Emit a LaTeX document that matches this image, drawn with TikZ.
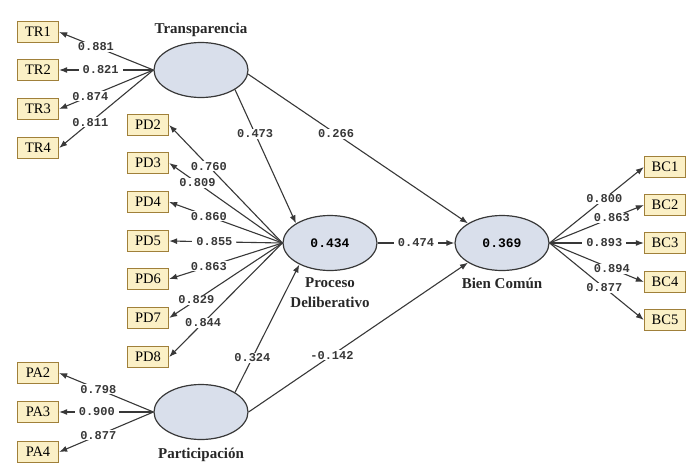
\documentclass[tikz,border=0pt]{standalone}
\usepackage{fontspec}
\setmainfont{Liberation Serif}
\newfontfamily\numfont{Liberation Mono}
\usetikzlibrary{shapes,arrows,positioning,calc,arrows.meta}
\definecolor{latentfill}{HTML}{D9DFEB}
\definecolor{itemfill}{HTML}{FBF0C6}
\definecolor{itemdraw}{HTML}{A0803A}
\definecolor{pathgray}{HTML}{383838}

\tikzset{
  latent/.style={ellipse, draw=pathgray, fill=latentfill, line width=1.2pt, minimum width=94pt, minimum height=55pt, inner sep=0pt, font=\numfont\bfseries\fontsize{13}{13}\selectfont},
  item/.style={rectangle, draw=itemdraw, fill=itemfill, line width=1.3pt, minimum width=41pt, minimum height=21pt, inner sep=0pt, font=\fontsize{14.5}{14.5}\selectfont},
  load/.style={draw=pathgray, line width=1.1pt, -{Latex[length=8pt,width=6pt]}},
  coef/.style={fill=white, inner xsep=4pt, inner ysep=1pt, text=pathgray, font=\numfont\bfseries\fontsize{12}{12}\selectfont},
  construct/.style={text=pathgray!70!black, font=\bfseries\fontsize{15}{20}\selectfont, align=center}
}

\begin{document}
\begin{tikzpicture}[x=1pt, y=-1pt]
    \useasboundingbox (0,0) rectangle (689,472);

    % latent variables
    \node[latent] (TRa) at (201,70) {};
    \node[latent] (PDa) at (330,243) {0.434};
    \node[latent] (BCa) at (502,243) {0.369};
    \node[latent] (PAa) at (201,412) {};
    \node[construct, above=2pt of TRa] (TRn) {Transparencia};
    \node[construct, below=3pt of PDa] (PDn) {Proceso\\Deliberativo};
    \node[construct, below=3pt of BCa] (BCn) {Bien Común};
    \node[construct, below=4pt of PAa] (PAn) {Participación};

    % indicators
    \node[item] (TR1) at (38,32) {TR1};
    \node[item] (TR2) at (38,70) {TR2};
    \node[item] (TR3) at (38,109) {TR3};
    \node[item] (TR4) at (38,148) {TR4};
    \node[item] (PD2) at (148,125) {PD2};
    \node[item] (PD3) at (148,163) {PD3};
    \node[item] (PD4) at (148,202) {PD4};
    \node[item] (PD5) at (148,241) {PD5};
    \node[item] (PD6) at (148,279) {PD6};
    \node[item] (PD7) at (148,318) {PD7};
    \node[item] (PD8) at (148,357) {PD8};
    \node[item] (PA2) at (38,373) {PA2};
    \node[item] (PA3) at (38,412) {PA3};
    \node[item] (PA4) at (38,452) {PA4};
    \node[item] (BC1) at (665,167) {BC1};
    \node[item] (BC2) at (665,205) {BC2};
    \node[item] (BC3) at (665,243) {BC3};
    \node[item] (BC4) at (665,282) {BC4};
    \node[item] (BC5) at (665,320) {BC5};

    % outer loadings
    \draw[load] (TRa.west) -- (TR1.east) node[coef, pos=0.61] {0.881};
    \draw[load] (TRa.west) -- (TR2.east) node[coef, pos=0.56] {0.821};
    \draw[load] (TRa.west) -- (TR3.east) node[coef, pos=0.67] {0.874};
    \draw[load] (TRa.west) -- (TR4.east) node[coef, pos=0.67] {0.811};
    \draw[load] (PDa.west) -- (PD2.east) node[coef, pos=0.65] {0.760};
    \draw[load] (PDa.west) -- (PD3.east) node[coef, pos=0.75] {0.809};
    \draw[load] (PDa.west) -- (PD4.east) node[coef, pos=0.65] {0.860};
    \draw[load] (PDa.west) -- (PD5.east) node[coef, pos=0.6] {0.855};
    \draw[load] (PDa.west) -- (PD6.east) node[coef, pos=0.65] {0.863};
    \draw[load] (PDa.west) -- (PD7.east) node[coef, pos=0.76] {0.829};
    \draw[load] (PDa.west) -- (PD8.east) node[coef, pos=0.7] {0.844};
    \draw[load] (PAa.west) -- (PA2.east) node[coef, pos=0.585] {0.798};
    \draw[load] (PAa.west) -- (PA3.east) node[coef, pos=0.6] {0.900};
    \draw[load] (PAa.west) -- (PA4.east) node[coef, pos=0.585] {0.877};
    \draw[load] (BCa.east) -- (BC1.west) node[coef, pos=0.58] {0.800};
    \draw[load] (BCa.east) -- (BC2.west) node[coef, pos=0.66] {0.863};
    \draw[load] (BCa.east) -- (BC3.west) node[coef, pos=0.58] {0.893};
    \draw[load] (BCa.east) -- (BC4.west) node[coef, pos=0.66] {0.894};
    \draw[load] (BCa.east) -- (BC5.west) node[coef, pos=0.58] {0.877};

    % path coefficients
    \draw[load] (TRa.-30) -- (PDa.150) node[coef, pos=0.33] {0.473};
    \draw[load] (TRa.-5) -- (BCa.150) node[coef, pos=0.4] {0.266};
    \draw[load] (PDa.east) -- (BCa.west) node[coef, midway] {0.474};
    \draw[load] (PAa.30) -- (PDa.-145) node[coef, pos=0.27] {0.324};
    \draw[load] (PAa.east) -- (BCa.-150) node[coef, pos=0.38] {-0.142};
\end{tikzpicture}
\end{document}
